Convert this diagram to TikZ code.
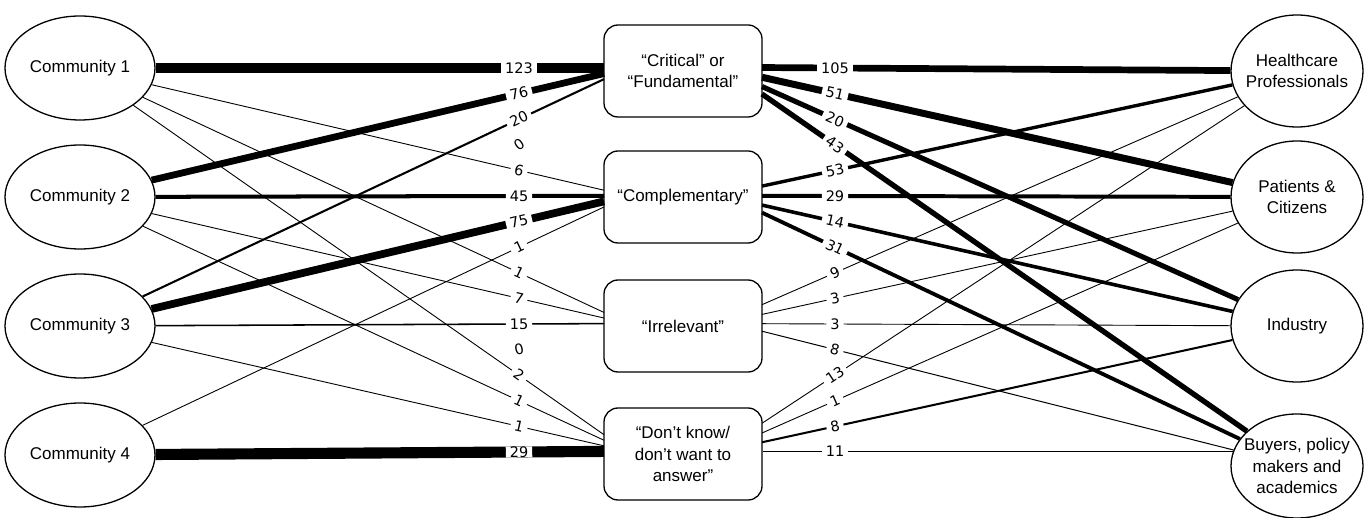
\documentclass[tikz,border=0pt]{standalone}
\usepackage{fontspec}
\setmainfont{Liberation Sans}
\newfontfamily\labfont{DejaVu Sans}
\usetikzlibrary{shapes.geometric,calc}
\begin{document}
\begin{tikzpicture}[x=1pt,y=-1pt,
  ell/.style={ellipse, draw, line width=1.3pt, fill=white, inner sep=0pt, align=center, font=\fontsize{17}{21.3}\selectfont},
  leftell/.style={ell, minimum width=150pt, minimum height=104pt},
  rightell/.style={ell, inner xsep=-20pt, inner ysep=-8pt, minimum width=132pt, minimum height=112pt},
  midbox/.style={rectangle, rounded corners=14pt, draw, line width=1.3pt, fill=white, minimum width=158pt, minimum height=92pt, align=center, font=\fontsize{17}{21.3}\selectfont},
  lab/.style={fill=white, inner xsep=4pt, inner ysep=0pt, sloped, font=\labfont\fontsize{14.5}{16}\selectfont}
]
\useasboundingbox (0,0) rectangle (1371,518);
% left ellipses
\node[leftell] (l1) at (80,68) {Community 1};
\node[leftell] (l2) at (80,197) {Community 2};
\node[leftell] (l3) at (80,326) {Community 3};
\node[leftell] (l4) at (80,455) {Community 4};
% middle boxes
\node[midbox] (m1) at (683,71) {“Critical” or\\“Fundamental”};
\node[midbox] (m2) at (683,197) {“Complementary”};
\node[midbox] (m3) at (683,326) {“Irrelevant”};
\node[midbox] (m4) at (683,454) {“Don’t know/\\don’t want to\\answer”};
% right ellipses
\node[rightell] (r1) at (1297,71) {Healthcare\\Professionals};
\node[rightell] (r2) at (1297,197) {Patients \&\\Citizens};
\node[rightell] (r3) at (1297,326) {Industry};
\node[rightell, minimum height=104pt] (r4) at (1297,466) {Buyers, policy\\makers and\\academics};

\def\leftlist{1/1/123/10.72/1, 1/2/76/6.78/1, 1/3/20/2.07/1, 1/4/0/0.1/0,
  2/1/6/0.9/1, 2/2/45/4.01/1, 2/3/75/7.77/1, 2/4/1/0.9/1,
  3/1/1/0.9/1, 3/2/7/0.9/1, 3/3/15/1.55/1, 3/4/0/0.1/0,
  4/1/2/0.9/1, 4/2/1/0.9/1, 4/3/1/0.9/1, 4/4/29/11.12/1}
\def\rightlist{1/1/105/6.71/1, 1/2/51/6.98/1, 1/3/20/5.11/1, 1/4/43/5.32/1,
  2/1/53/3.39/1, 2/2/29/3.97/1, 2/3/14/3.58/1, 2/4/31/3.83/1,
  3/1/9/0.9/1, 3/2/3/0.9/1, 3/3/3/0.9/1, 3/4/8/1.0/1,
  4/1/13/0.9/1, 4/2/1/0.9/1, 4/3/8/2.04/1}

% connectors
\foreach \i/\j/\v/\w/\o in \leftlist {
  \pgfmathsetmacro\ly{68+25.6*(4*(\i-1)+(\j-1))}
  \coordinate (p) at (519,\ly);
  \draw[line width=\w pt, draw opacity=\o] (l\j) -- ($(l\j.center)!1.19362!(p)$);
}
\foreach \i/\j/\v/\w/\o in \rightlist {
  \pgfmathsetmacro\ly{68+25.6*(4*(\i-1)+(\j-1))}
  \coordinate (q) at (835,\ly);
  \draw[line width=\w pt, draw opacity=\o] (r\j) -- ($(r\j.center)!1.15801!(q)$);
}
% "Don't know" -> Buyers (horizontal)
\coordinate (dkb) at (m4.east |- r4.167.6);
\draw[line width=1.36pt] (dkb) -- (r4.167.6);
% labels
\foreach \i/\j/\v/\w/\o in \leftlist {
  \pgfmathsetmacro\ly{68+25.6*(4*(\i-1)+(\j-1))}
  \coordinate (p) at (519,\ly);
  \path (l\j.center) -- ($(l\j.center)!1.19362!(p)$) node[lab, pos=0.83779] {\v};
}
\foreach \i/\j/\v/\w/\o in \rightlist {
  \pgfmathsetmacro\ly{68+25.6*(4*(\i-1)+(\j-1))}
  \coordinate (q) at (835,\ly);
  \path (r\j.center) -- ($(r\j.center)!1.15801!(q)$) node[lab, pos=0.86355] {\v};
}
\path (dkb) -- (r4.167.6) node[lab, pos=0.154] {11};
\end{tikzpicture}
\end{document}
